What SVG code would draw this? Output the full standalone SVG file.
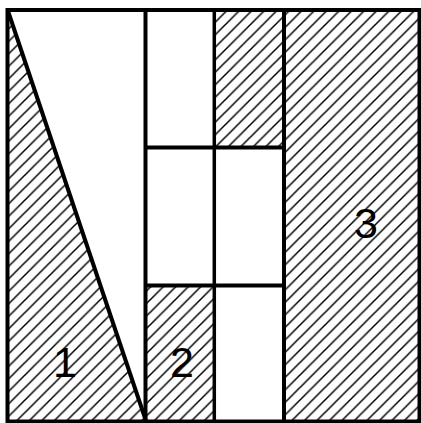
<svg xmlns="http://www.w3.org/2000/svg" width="421" height="423" viewBox="0 0 421 423">
<defs>
<pattern id="hatch" patternUnits="userSpaceOnUse" width="12.5" height="12.5">
<path d="M-2,2 L2,-2 M0,12.5 L12.5,0 M10.5,14.5 L14.5,10.5" stroke="#000" stroke-width="1.5"/>
</pattern>
<style>
.h{fill:url(#hatch);stroke:none}
.l{stroke:#000;stroke-width:4;fill:none}
.t{font-family:"Liberation Sans",Arial,sans-serif;font-size:43px;fill:#000;text-anchor:middle}
</style>
</defs>
<rect width="421" height="423" fill="#fff"/>
<g id="region1">
<polygon class="h" points="7,10 7,421 146,421"/>
<text class="t" x="65" y="377">1</text>
</g>
<g id="region2">
<rect class="h" x="146" y="285.5" width="68.5" height="135.5"/>
<text class="t" x="182" y="377">2</text>
</g>
<g id="regionTop">
<rect class="h" x="214.5" y="10" width="69.5" height="137.5"/>
</g>
<g id="region3">
<rect class="h" x="284" y="10" width="135.5" height="411"/>
<text class="t" x="366" y="238">3</text>
</g>
<g id="lines">
<rect class="l" x="7.5" y="10" width="412" height="411.5"/>
<line class="l" x1="8" y1="11" x2="146" y2="421"/>
<line class="l" x1="145.5" y1="10" x2="145.5" y2="421"/>
<line class="l" x1="214.3" y1="10" x2="214.3" y2="421" style="stroke-width:3.5"/>
<line class="l" x1="284" y1="10" x2="284" y2="421"/>
<line class="l" x1="145.5" y1="147.5" x2="284" y2="147.5"/>
<line class="l" x1="145.5" y1="285.5" x2="284" y2="285.5"/>
</g>
</svg>
